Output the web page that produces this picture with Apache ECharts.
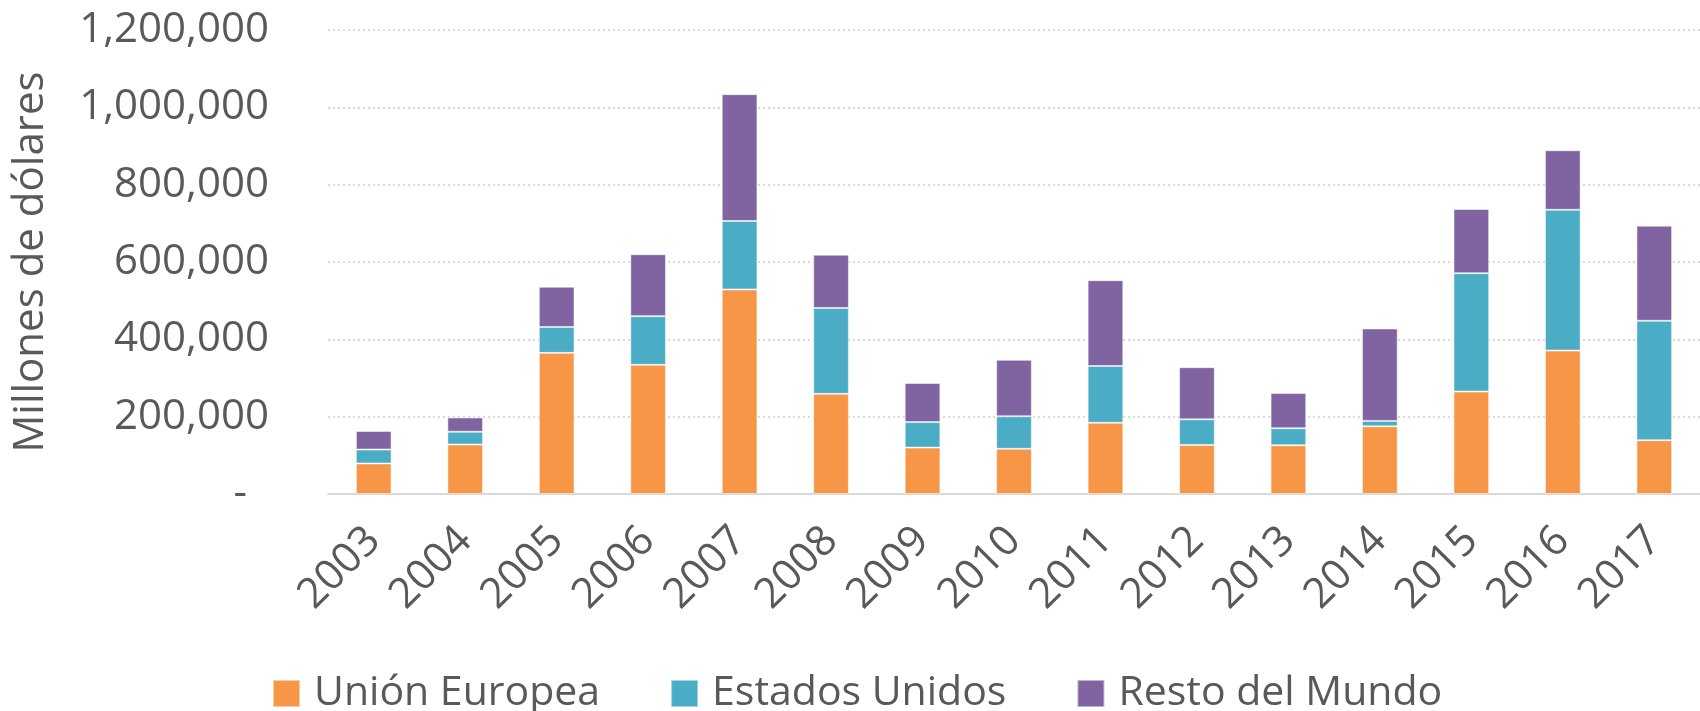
<!DOCTYPE html>
<html>
<head>
<meta charset="utf-8">
<script src="https://cdn.jsdelivr.net/npm/echarts@6/dist/echarts.min.js"></script>
<style>
    html, body { margin: 0; padding: 0; background: #fff; }
    #chart { width: 1700px; height: 711px; }
</style>
</head>
<body>
<div id="chart"></div>
<script>
// datos (millones de dólares)
var years = ['2003', '2004', '2005', '2006', '2007', '2008', '2009', '2010',
             '2011', '2012', '2013', '2014', '2015', '2016', '2017'];
var unionEuropea  = [79000, 128000, 365000, 334000, 529000, 259000, 120000, 117000,
                     184000, 127000, 126000, 175000, 265000, 371000, 139000];
var estadosUnidos = [36000, 33000, 67000, 126000, 177000, 222000, 66000, 84000,
                     147000, 66000, 44000, 14000, 306000, 364000, 309000];
var restoMundo    = [48000, 37000, 104000, 160000, 328000, 138000, 101000, 146000,
                     222000, 135000, 91000, 239000, 166000, 154000, 246000];
var seriesNames = ['Unión Europea', 'Estados Unidos', 'Resto del Mundo'];
var yMin = 0, yMax = 1200000, yStep = 200000;

var font = "'Open Sans', 'Noto Sans', sans-serif";
var grey = '#595959';

var chart = echarts.init(document.getElementById('chart'));
var option = {
    animation: false,
    color: ['#F79646', '#4BACC6', '#8064A2'],
    grid: {
        left: 328,
        right: -8,
        top: 30,
        bottom: 217
    },
    legend: {
        data: seriesNames,
        left: 272,
        top: 673,
        padding: 0,
        icon: 'rect',
        itemWidth: 27,
        itemHeight: 27,
        itemGap: 70,
        textStyle: {
            fontFamily: font,
            fontSize: 41,
            color: grey,
            padding: [0, 0, 0, 9]
        }
    },
    xAxis: {
        type: 'category',
        data: years,
        axisTick: {show: false},
        axisLine: {lineStyle: {color: '#d9d9d9', width: 2}},
        axisLabel: {
            rotate: 45,
            margin: 40,
            fontFamily: font,
            fontSize: 42,
            color: grey
        }
    },
    yAxis: {
        type: 'value',
        min: yMin,
        max: yMax,
        interval: yStep,
        name: 'Millones de dólares',
        nameLocation: 'middle',
        nameGap: 276,
        nameTextStyle: {
            fontFamily: font,
            fontSize: 42,
            color: grey
        },
        axisLine: {show: false},
        axisTick: {show: false},
        splitLine: {lineStyle: {color: '#d9d9d9', width: 2, type: [2, 3]}},
        axisLabel: {
            margin: 59,
            fontFamily: font,
            fontSize: 42,
            color: grey,
            formatter: function (v) {
                return v === 0 ? '{d|-}' : v.toLocaleString('en-US');
            },
            rich: {
                d: {fontFamily: font, fontSize: 42, color: grey, padding: [0, 22, 0, 0]}
            }
        }
    },
    series: [
        {
            name: seriesNames[0],
            type: 'bar',
            stack: 'total',
            barWidth: '39%',
            itemStyle: {borderColor: 'rgba(255,255,255,0.5)', borderWidth: 1},
            data: unionEuropea
        },
        {
            name: seriesNames[1],
            type: 'bar',
            stack: 'total',
            barWidth: '39%',
            itemStyle: {borderColor: 'rgba(255,255,255,0.5)', borderWidth: 1},
            data: estadosUnidos
        },
        {
            name: seriesNames[2],
            type: 'bar',
            stack: 'total',
            barWidth: '39%',
            itemStyle: {borderColor: 'rgba(255,255,255,0.5)', borderWidth: 1},
            data: restoMundo
        }
    ]
};
chart.setOption(option);
window.onresize = chart.resize;
</script>
</body>
</html>
